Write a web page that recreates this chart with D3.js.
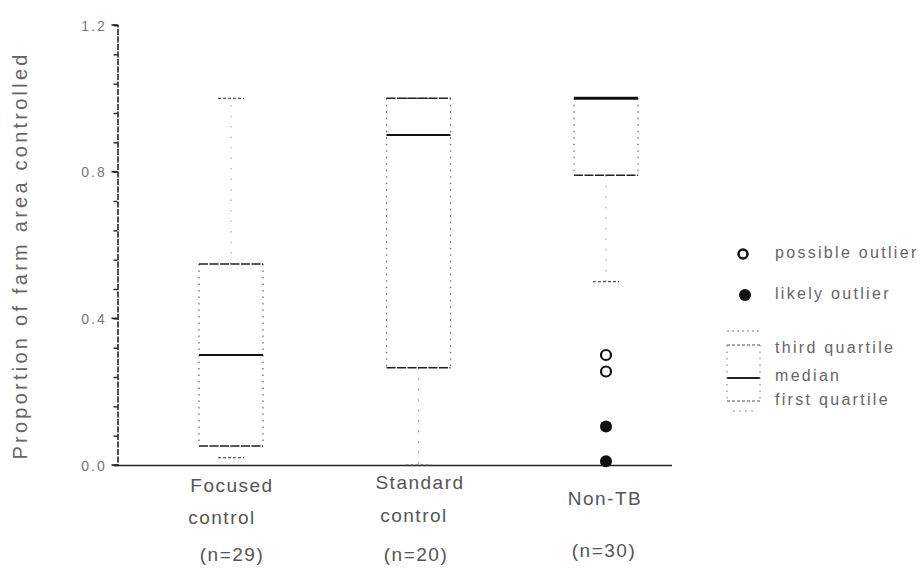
<!DOCTYPE html>
<html>
<head>
<meta charset="utf-8">
<script src="https://cdn.jsdelivr.net/npm/d3@7"></script>
<style>
  html, body { margin: 0; padding: 0; background: #fff; overflow: hidden; }
  svg { display: block; }
  text { font-family: "Liberation Sans", Arial, sans-serif; fill: #555; }
</style>
</head>
<body>
<svg id="chart" width="924" height="572"></svg>
<script>
// ---- data ----
const categories = ["Focused control", "Standard control", "Non-TB"];
const labelLines = [["Focused", "control", "(n=29)"], ["Standard", "control", "(n=20)"], ["Non-TB", "", "(n=30)"]];
const whiskerLow  = [0.02, 0.0, 0.50];
const q1Values    = [0.052, 0.265, 0.79];
const medians     = [0.30, 0.90, 1.0];
const q3Values    = [0.548, 1.0, 1.0];
const whiskerHigh = [1.0, 1.0, 1.0];
const possibleOutliers = [{cat: "Non-TB", v: 0.30}, {cat: "Non-TB", v: 0.255}];
const likelyOutliers   = [{cat: "Non-TB", v: 0.105}, {cat: "Non-TB", v: 0.01}];
const majorTicks = [0.0, 0.4, 0.8, 1.2];
const tickLabels = ["0.0", "0.4", "0.8", "1.2"];
const yTitle = "Proportion of farm area controlled";
const legendItems = ["possible outlier", "likely outlier", "third quartile", "median", "first quartile"];

// ---- drawing ----
const svg = d3.select("#chart");
const y = d3.scaleLinear().domain([0, 1.2]).range([465, 25]);
const x = d3.scalePoint().domain(categories).range([231, 606]);
const boxW = 64, capW = 26;
const axisX = 117.5;
const dark = "#222";

// y axis
const yAxis = d3.axisLeft(y).tickValues(d3.range(0, 1.2001, 0.08)).tickSize(4).tickFormat("");
const ga = svg.append("g").attr("transform", `translate(${axisX},0)`).call(yAxis);
ga.select(".domain").attr("stroke", dark).attr("stroke-width", 1.6).attr("stroke-dasharray", "6,1.5");
ga.selectAll(".tick line").attr("stroke", dark).attr("stroke-width", 1.4);
svg.append("g").selectAll("line").data(majorTicks).join("line")
  .attr("x1", axisX - 6).attr("x2", axisX).attr("y1", d => y(d)).attr("y2", d => y(d))
  .attr("stroke", dark).attr("stroke-width", 1.6);
svg.append("g").selectAll("text").data(majorTicks).join("text")
  .attr("x", 94).attr("y", d => y(d) + 2).attr("text-anchor", "middle")
  .attr("dominant-baseline", "middle").style("font-size", "14px").style("letter-spacing", "2px")
  .style("fill", "#777").text((d, i) => tickLabels[i]);

// x axis line
svg.append("line").attr("x1", axisX).attr("x2", 672).attr("y1", y(0) + 0.5).attr("y2", y(0) + 0.5)
  .attr("stroke", dark).attr("stroke-width", 1.6);

// y title
svg.append("text").attr("transform", `translate(22,257) rotate(-90)`)
  .attr("text-anchor", "middle").attr("dominant-baseline", "middle")
  .attr("textLength", 405).attr("lengthAdjust", "spacing")
  .style("font-size", "20px").style("fill", "#666").text(yTitle);

// boxes
const boxes = svg.append("g");
categories.forEach((c, i) => {
  const cx = x(c);
  const g = boxes.append("g");
  g.append("line").attr("x1", cx).attr("x2", cx).attr("y1", y(q3Values[i])).attr("y2", y(whiskerHigh[i]))
    .attr("stroke", "#999").attr("stroke-width", 1).attr("stroke-dasharray", "1.5,9");
  g.append("line").attr("x1", cx).attr("x2", cx).attr("y1", y(q1Values[i])).attr("y2", y(whiskerLow[i]))
    .attr("stroke", "#999").attr("stroke-width", 1).attr("stroke-dasharray", "1.5,9");
  [whiskerHigh[i], whiskerLow[i]].forEach(v => {
    g.append("line").attr("x1", cx - capW / 2).attr("x2", cx + capW / 2).attr("y1", y(v)).attr("y2", y(v))
      .attr("stroke", "#555").attr("stroke-width", 1.2).attr("stroke-dasharray", "3,2");
  });
  [cx - boxW / 2, cx + boxW / 2].forEach(sx => {
    g.append("line").attr("x1", sx).attr("x2", sx).attr("y1", y(q3Values[i])).attr("y2", y(q1Values[i]))
      .attr("stroke", "#666").attr("stroke-width", 1.2).attr("stroke-dasharray", "1.5,5");
  });
  [q3Values[i], q1Values[i]].forEach(v => {
    g.append("line").attr("x1", cx - boxW / 2).attr("x2", cx + boxW / 2).attr("y1", y(v)).attr("y2", y(v))
      .attr("stroke", dark).attr("stroke-width", 1.5).attr("stroke-dasharray", "9,1.5");
  });
  g.append("line").attr("x1", cx - boxW / 2).attr("x2", cx + boxW / 2).attr("y1", y(medians[i])).attr("y2", y(medians[i]))
    .attr("stroke", "#111").attr("stroke-width", medians[i] === q3Values[i] ? 3 : 2);
});

// outliers
svg.append("g").selectAll("circle").data(possibleOutliers).join("circle")
  .attr("cx", d => x(d.cat)).attr("cy", d => y(d.v)).attr("r", 5)
  .attr("fill", "none").attr("stroke", "#111").attr("stroke-width", 2.2);
svg.append("g").selectAll("circle").data(likelyOutliers).join("circle")
  .attr("cx", d => x(d.cat)).attr("cy", d => y(d.v)).attr("r", 6)
  .attr("fill", "#111");

// category labels
const lineY = [[487, 519, 556], [484, 517, 556], [500, null, 552]];
const lineX = [[232, 222, 232], [420, 414, 416], [605, null, 604]];
categories.forEach((c, i) => {
  labelLines[i].forEach((t, j) => {
    if (!t) return;
    svg.append("text").attr("x", lineX[i][j]).attr("y", lineY[i][j])
      .attr("text-anchor", "middle").attr("dominant-baseline", "middle")
      .style("font-size", "19px").style("letter-spacing", "1.5px")
      .style("fill", "#555").text(t);
  });
});

// legend
const lg = svg.append("g");
lg.append("circle").attr("cx", 743).attr("cy", 254).attr("r", 4.5)
  .attr("fill", "none").attr("stroke", "#111").attr("stroke-width", 2.5);
lg.append("circle").attr("cx", 745).attr("cy", 295).attr("r", 6).attr("fill", "#111");
const lgText = [254, 295, 349, 377, 401];
lg.selectAll("text").data(legendItems).join("text")
  .attr("x", 775).attr("y", (d, i) => lgText[i]).attr("dominant-baseline", "middle")
  .style("font-size", "16px").style("letter-spacing", "2.3px").style("fill", "#666").text(d => d);
const ix1 = 727, ix2 = 760;
lg.append("line").attr("x1", ix1).attr("x2", ix2).attr("y1", 331).attr("y2", 331)
  .attr("stroke", "#777").attr("stroke-width", 1).attr("stroke-dasharray", "2,3");
[345, 401].forEach(v => lg.append("line").attr("x1", ix1).attr("x2", ix2).attr("y1", v).attr("y2", v)
  .attr("stroke", "#555").attr("stroke-width", 1.2).attr("stroke-dasharray", "3,2"));
lg.append("line").attr("x1", ix1).attr("x2", ix2).attr("y1", 378).attr("y2", 378)
  .attr("stroke", "#222").attr("stroke-width", 1.8);
[ix1, ix2].forEach(sx => lg.append("line").attr("x1", sx).attr("x2", sx).attr("y1", 345).attr("y2", 401)
  .attr("stroke", "#777").attr("stroke-width", 1).attr("stroke-dasharray", "1.5,5"));
lg.append("line").attr("x1", ix1 + 6).attr("x2", ix2 - 6).attr("y1", 411).attr("y2", 411)
  .attr("stroke", "#999").attr("stroke-width", 1).attr("stroke-dasharray", "2,4");
</script>
</body>
</html>
